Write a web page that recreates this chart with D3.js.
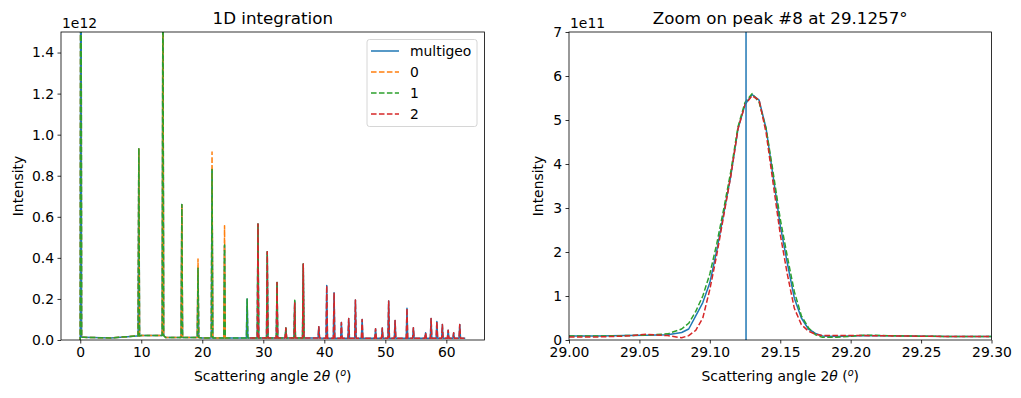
<!DOCTYPE html>
<html>
<head>
<meta charset="utf-8">
<title>1D integration</title>
<script src="https://d3js.org/d3.v7.min.js"></script>
<style>
    body { margin: 0; background: #fff; overflow: hidden; }
    svg { display: block; font-family: "DejaVu Sans", sans-serif; }
    .tick text { font-size: 13.9px; fill: #000; }
    .tick line { stroke: #000; stroke-width: 0.8px; }
</style>
</head>
<body>
<div id="chart"></div>
<script>
// ---- left panel: peak positions (deg) and heights (x1e12) per series ----
const peakAngles = [0.1, 9.6, 13.55, 16.65, 19.3, 21.6, 23.65, 27.35, 29.13, 30.65, 32.25, 33.7, 35.15, 36.55,
    39.1, 40.4, 41.6, 42.8, 44.0, 45.1, 46.2, 48.4, 49.5, 50.55, 51.6, 53.55, 54.6, 56.6, 57.5, 58.45, 59.35, 60.3, 61.2, 62.2];
const multigeoPeaks = [3.0, 0.93, 1.9, 0.66, 0.35, 0.83, 0.46, 0.2, 0.565, 0.43, 0.28, 0.058, 0.19, 0.37,
    0.065, 0.265, 0.23, 0.085, 0.105, 0.195, 0.1, 0.055, 0.058, 0.19, 0.095, 0.155, 0.06, 0.035, 0.105, 0.09, 0.075, 0.048, 0.035, 0.075];
const det0Peaks = [3.0, 0.93, 1.9, 0.66, 0.395, 0.915, 0.557, null, null, null, null, null, null, null,
    null, null, null, null, null, null, null, null, null, null, null, null, null, null, null, null, null, null, null, null];
const det1Peaks = [3.0, 0.935, 1.9, 0.66, 0.35, 0.83, 0.463, 0.2, 0.565, 0.43, 0.28, 0.058, 0.193, 0.37,
    null, null, null, null, null, null, null, null, null, null, null, null, null, null, null, null, null, null, null, null];
const det2Peaks = [null, null, null, null, null, null, null, null, 0.565, 0.43, 0.28, 0.058, 0.18, 0.37,
    0.065, 0.265, 0.23, 0.085, 0.105, 0.195, 0.1, 0.055, 0.058, 0.19, 0.095, 0.155, 0.06, 0.035, 0.105, 0.09, 0.075, 0.048, 0.035, 0.075];
const backgroundAngles = [0.6, 5, 9.3, 10, 14, 20, 40, 63];
const backgroundLevels = [0.013, 0.010, 0.020, 0.022, 0.012, 0.010, 0.009, 0.008];
const seriesNames = ["multigeo", "0", "1", "2"];
const seriesRanges = [[0, 63.1], [0, 24.5], [0, 36.3], [27.8, 63]];
const seriesStart = [0, 0, 0, 0.01];

// ---- right panel: zoom on peak #8 (intensity x1e11) ----
const zoomAngles = [29.000, 29.020, 29.040, 29.055, 29.070, 29.080, 29.085, 29.090, 29.095, 29.100, 29.105, 29.110,
    29.115, 29.120, 29.125, 29.130, 29.135, 29.140, 29.145, 29.150, 29.155, 29.160, 29.165, 29.170, 29.175, 29.180,
    29.190, 29.210, 29.240, 29.270, 29.300];
const zoomMultigeo = [0.09, 0.09, 0.10, 0.11, 0.12, 0.17, 0.25, 0.55, 0.85, 1.30, 2.05, 2.90,
    3.75, 4.80, 5.35, 5.58, 5.45, 4.80, 3.70, 2.60, 1.75, 0.95, 0.50, 0.25, 0.15, 0.09,
    0.08, 0.10, 0.09, 0.08, 0.08];
const zoomDet1 = [0.09, 0.09, 0.10, 0.11, 0.14, 0.25, 0.38, 0.65, 1.00, 1.50, 2.20, 3.00,
    3.85, 4.85, 5.40, 5.60, 5.40, 4.80, 3.80, 2.75, 1.90, 1.10, 0.55, 0.28, 0.12, 0.06,
    0.06, 0.11, 0.09, 0.08, 0.08];
const zoomDet2 = [0.07, 0.07, 0.09, 0.13, 0.10, 0.05, 0.10, 0.22, 0.50, 1.15, 1.95, 2.85,
    3.75, 4.80, 5.35, 5.55, 5.45, 4.70, 3.55, 2.40, 1.50, 0.72, 0.35, 0.20, 0.13, 0.10,
    0.10, 0.10, 0.09, 0.08, 0.08];
const peakPosition = 29.1257;

const colors = ["#1f77b4", "#ff7f0e", "#2ca02c", "#d62728"];
const dashes = [null, "5.55,2.4", "5.55,2.4", "5.55,2.4"];

const W = 1021, H = 398;
const svg = d3.select("#chart").append("svg").attr("width", W).attr("height", H);

function bgLevel(a) {
    let lvl = backgroundLevels[0];
    backgroundAngles.forEach((b, i) => { if (b <= a) lvl = backgroundLevels[i]; });
    return lvl;
}

// each peak is drawn as a narrow spike: foot, top, foot
function buildSeries(peaks, range, start) {
    const pts = [[range[0], start]];
    backgroundAngles.forEach((a, i) => {
        if (a > range[0] && a < range[1]) pts.push([a, backgroundLevels[i]]);
    });
    peakAngles.forEach((a, i) => {
        if (peaks[i] == null) return;
        pts.push([a - 0.12, bgLevel(a - 0.12)], [a, peaks[i]], [a + 0.12, bgLevel(a + 0.12)]);
    });
    pts.sort((p, q) => p[0] - q[0]);
    pts.push([range[1], bgLevel(range[1])]);
    return pts;
}

function makeAxes(opts) {
    const g = svg.append("g");
    const x = d3.scaleLinear().domain(opts.xDomain).range([opts.left, opts.right]);
    const y = d3.scaleLinear().domain(opts.yDomain).range([opts.bottom, opts.top]);

    const clipId = "clip" + opts.id;
    svg.append("clipPath").attr("id", clipId).append("rect")
        .attr("x", opts.left).attr("y", opts.top)
        .attr("width", opts.right - opts.left).attr("height", opts.bottom - opts.top);
    const plot = g.append("g").attr("clip-path", `url(#${clipId})`);

    g.append("g").attr("transform", `translate(0,${opts.bottom})`)
        .call(d3.axisBottom(x).tickValues(opts.xTicks).tickFormat(d3.format(opts.xFmt)).tickSize(3.5).tickPadding(3.5).tickSizeOuter(0))
        .call(s => s.select(".domain").remove());
    g.append("g").attr("transform", `translate(${opts.left},0)`)
        .call(d3.axisLeft(y).tickValues(opts.yTicks).tickFormat(d3.format(opts.yFmt)).tickSize(3.5).tickPadding(3.5).tickSizeOuter(0))
        .call(s => s.select(".domain").remove());
    g.selectAll(".tick text").attr("font-family", "DejaVu Sans").attr("font-size", 13.9);

    g.append("text").attr("x", (opts.left + opts.right) / 2).attr("y", 24)
        .attr("text-anchor", "middle").attr("font-size", 16.7).text(opts.title);
    g.append("text").attr("x", opts.left + 1).attr("y", 28.3)
        .attr("font-size", 13.9).text(opts.offset);

    const xl = g.append("text").attr("x", (opts.left + opts.right) / 2).attr("y", 381)
        .attr("text-anchor", "middle").attr("font-size", 13.9);
    xl.append("tspan").text("Scattering angle 2");
    xl.append("tspan").attr("font-style", "italic").text("θ");
    xl.append("tspan").text(" (");
    xl.append("tspan").attr("font-style", "italic").attr("font-size", 9.7).attr("dy", -5).text("o");
    xl.append("tspan").attr("dy", 5).text(")");

    g.append("text").attr("transform", `translate(${opts.yLabelX},${(opts.top + opts.bottom) / 2}) rotate(-90)`)
        .attr("text-anchor", "middle").attr("font-size", 13.9).text("Intensity");

    return { g, plot, x, y, opts };
}

// ---- left panel ----
const left = makeAxes({
    id: "L", left: 61, right: 484.5, top: 32, bottom: 340,
    xDomain: [-3.155, 66.255], yDomain: [0, 1.5],
    xTicks: [0, 10, 20, 30, 40, 50, 60], xFmt: "d",
    yTicks: [0, 0.2, 0.4, 0.6, 0.8, 1.0, 1.2, 1.4], yFmt: ".1f",
    title: "1D integration", offset: "1e12", yLabelX: 23
});
const allPeaks = [multigeoPeaks, det0Peaks, det1Peaks, det2Peaks];
const lineL = d3.line().x(d => left.x(d[0])).y(d => left.y(d[1]));
allPeaks.forEach((peaks, i) => {
    left.plot.append("path")
        .attr("d", lineL(buildSeries(peaks, seriesRanges[i], seriesStart[i])))
        .attr("fill", "none").attr("stroke", colors[i]).attr("stroke-width", 1.5)
        .attr("stroke-dasharray", dashes[i]).attr("stroke-linejoin", "round");
});

// legend
const lg = left.g.append("g").attr("transform", "translate(367,39.5)");
lg.append("rect").attr("width", 110).attr("height", 87).attr("rx", 2.5)
    .attr("fill", "#fff").attr("fill-opacity", 0.8).attr("stroke", "#cccccc").attr("stroke-width", 0.8);
seriesNames.forEach((name, i) => {
    const yy = 11.5 + i * 21;
    lg.append("line").attr("x1", 4).attr("x2", 32).attr("y1", yy).attr("y2", yy)
        .attr("stroke", colors[i]).attr("stroke-width", 1.5).attr("stroke-dasharray", dashes[i]);
    lg.append("text").attr("x", 43).attr("y", yy + 5).attr("font-size", 13.9).text(name);
});

// ---- right panel ----
const right = makeAxes({
    id: "R", left: 569, right: 991.5, top: 32, bottom: 340,
    xDomain: [29.0, 29.3], yDomain: [0, 7],
    xTicks: [29.0, 29.05, 29.1, 29.15, 29.2, 29.25, 29.3], xFmt: ".2f",
    yTicks: [0, 1, 2, 3, 4, 5, 6, 7], yFmt: "d",
    title: "Zoom on peak #8 at 29.1257°", offset: "1e11", yLabelX: 543
});
const lineR = d3.line().x((d, i) => right.x(zoomAngles[i])).y(d => right.y(d));
[[zoomMultigeo, 0], [zoomDet1, 2], [zoomDet2, 3]].forEach(([vals, c]) => {
    right.plot.append("path").attr("d", lineR(vals))
        .attr("fill", "none").attr("stroke", colors[c]).attr("stroke-width", 1.5)
        .attr("stroke-dasharray", dashes[c]).attr("stroke-linejoin", "round");
});
right.plot.append("line")
    .attr("x1", right.x(peakPosition)).attr("x2", right.x(peakPosition))
    .attr("y1", right.y(0)).attr("y2", right.y(7))
    .attr("stroke", colors[0]).attr("stroke-width", 1.5);

// spines on top of data
[left, right].forEach(ax => {
    ax.g.append("rect").attr("x", ax.opts.left).attr("y", ax.opts.top)
        .attr("width", ax.opts.right - ax.opts.left).attr("height", ax.opts.bottom - ax.opts.top)
        .attr("fill", "none").attr("stroke", "#000").attr("stroke-width", 0.8);
});
lg.raise();
</script>
</body>
</html>
